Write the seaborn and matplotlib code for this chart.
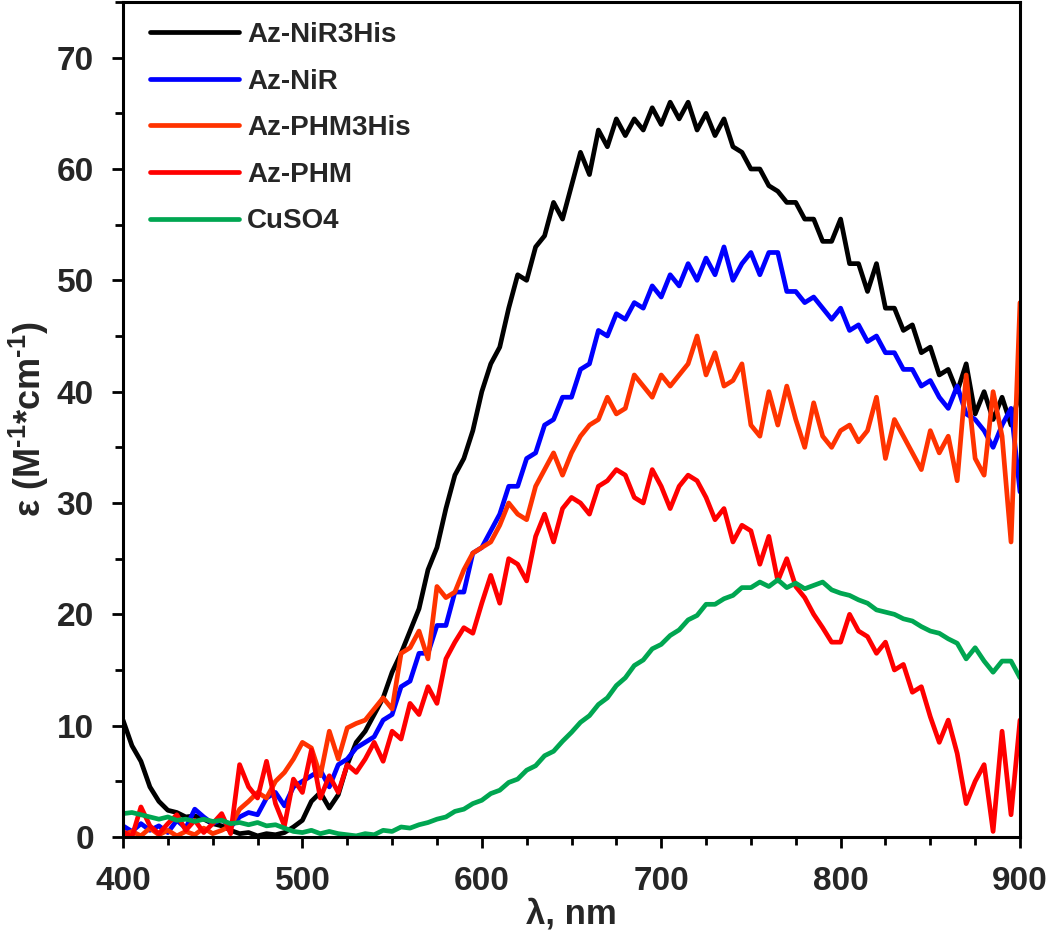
import numpy as np
import pandas as pd
import matplotlib
matplotlib.use("Agg")
import matplotlib.pyplot as plt
import seaborn as sns
from matplotlib.ticker import MultipleLocator

# ---------------- data (5 nm steps) ----------------
wavelength = list(range(400, 901, 5))

az_nir3his = [10.5, 8.2, 6.8, 4.5, 3.2, 2.4, 2.2, 1.8, 1.9, 1.6,
              1.2, 1.0, 0.6, 0.3, 0.4, 0.1, 0.3, 0.2, 0.4, 0.9,
              1.5, 3.2, 4.0, 2.6, 3.8, 6.5, 8.5, 9.5, 11.0, 12.5,
              14.8, 16.5, 18.5, 20.5, 24.0, 26.0, 29.5, 32.5, 34.0, 36.5,
              40.0, 42.5, 44.0, 47.5, 50.5, 50.0, 53.0, 54.0, 57.0, 55.5,
              58.5, 61.5, 59.5, 63.5, 62.0, 64.5, 63.0, 64.5, 63.5, 65.5,
              64.0, 66.0, 64.5, 66.0, 63.5, 65.0, 63.0, 64.5, 62.0, 61.5,
              60.0, 60.0, 58.5, 58.0, 57.0, 57.0, 55.5, 55.5, 53.5, 53.5,
              55.5, 51.5, 51.5, 49.0, 51.5, 47.5, 47.5, 45.5, 46.0, 43.5,
              44.0, 41.5, 42.0, 40.0, 42.5, 38.0, 40.0, 37.5, 39.5, 37.0,
              40.0]

az_nir = [1.0, 0.5, 1.2, 0.6, 1.0, 0.4, 1.5, 0.8, 2.5, 1.8,
          1.2, 1.6, 0.9, 1.8, 2.2, 2.0, 3.5, 4.0, 2.8, 4.5,
          5.0, 5.5, 6.0, 4.5, 6.5, 7.0, 8.0, 8.5, 9.0, 10.5,
          11.0, 13.5, 14.0, 16.5, 16.5, 19.0, 19.0, 22.0, 22.0, 25.5,
          26.0, 27.5, 29.0, 31.5, 31.5, 34.0, 34.5, 37.0, 37.5, 39.5,
          39.5, 42.0, 42.5, 45.5, 45.0, 47.0, 46.5, 48.0, 47.5, 49.5,
          48.5, 50.5, 49.5, 51.5, 50.0, 52.0, 50.5, 53.0, 50.0, 51.5,
          52.5, 50.5, 52.5, 52.5, 49.0, 49.0, 48.0, 48.5, 47.5, 46.5,
          47.5, 45.5, 46.0, 44.5, 45.0, 43.5, 43.5, 42.0, 42.0, 40.5,
          41.0, 39.5, 38.5, 40.5, 38.0, 37.5, 36.5, 35.0, 37.0, 38.5,
          31.0]

az_phm3his = [0.2, 0.5, 0.1, 0.8, 0.2, 0.6, 0.1, 0.5, 0.2, 0.8,
              0.3, 0.6, 1.0, 2.5, 3.2, 4.0, 3.5, 5.0, 5.8, 7.0,
              8.5, 8.0, 5.5, 9.5, 7.0, 9.8, 10.2, 10.5, 11.5, 12.5,
              11.5, 16.5, 17.0, 18.5, 16.0, 22.5, 21.5, 22.0, 24.0, 25.5,
              26.0, 26.5, 28.0, 30.0, 29.0, 28.5, 31.5, 33.0, 34.5, 32.5,
              34.5, 36.0, 37.0, 37.5, 39.5, 38.0, 38.5, 41.5, 40.5, 39.5,
              41.5, 40.5, 41.5, 42.5, 45.0, 41.5, 43.5, 40.5, 41.0, 42.5,
              37.0, 36.0, 40.0, 37.0, 40.5, 37.5, 35.0, 39.0, 36.0, 35.0,
              36.5, 37.0, 35.5, 36.5, 39.5, 34.0, 37.5, 36.0, 34.5, 33.0,
              36.5, 34.5, 36.0, 32.0, 41.5, 34.0, 32.5, 40.0, 36.0, 26.5,
              48.0]

az_phm = [0.5, 0.0, 2.7, 1.0, 0.3, 1.2, 2.0, 0.6, 1.5, 0.4,
          1.2, 2.1, 0.3, 6.5, 4.5, 3.5, 6.8, 3.0, 1.0, 5.2,
          4.0, 7.8, 3.5, 5.5, 4.0, 6.5, 5.8, 7.0, 8.5, 6.8,
          9.5, 8.8, 12.0, 11.0, 13.5, 12.0, 16.0, 17.5, 18.8, 18.3,
          21.0, 23.5, 21.0, 25.0, 24.5, 23.0, 27.0, 29.0, 26.5, 29.5,
          30.5, 30.0, 29.0, 31.5, 32.0, 33.0, 32.5, 30.5, 30.0, 33.0,
          31.5, 29.5, 31.5, 32.5, 32.0, 30.5, 28.5, 29.5, 26.5, 28.0,
          27.5, 24.5, 27.0, 23.0, 25.0, 22.5, 21.5, 20.0, 18.8, 17.5,
          17.5, 20.0, 18.5, 18.0, 16.5, 17.5, 15.0, 15.5, 13.0, 13.5,
          10.8, 8.5, 10.5, 7.5, 3.0, 5.0, 6.5, 0.5, 9.5, 2.0,
          10.5]

cuso4 = [2.1, 2.2, 2.0, 1.8, 1.6, 1.8, 1.5, 1.6, 1.4, 1.6,
         1.4, 1.5, 1.2, 1.3, 1.1, 1.3, 1.0, 1.1, 0.8, 0.5,
         0.4, 0.6, 0.3, 0.5, 0.3, 0.2, 0.1, 0.3, 0.2, 0.6,
         0.5, 0.9, 0.8, 1.1, 1.3, 1.6, 1.8, 2.3, 2.5, 3.0,
         3.3, 3.9, 4.2, 4.9, 5.2, 6.0, 6.4, 7.3, 7.7, 8.6,
         9.4, 10.3, 10.9, 11.9, 12.5, 13.6, 14.3, 15.4, 15.9, 16.9,
         17.3, 18.1, 18.6, 19.5, 19.9, 20.9, 20.9, 21.4, 21.7, 22.4,
         22.4, 22.9, 22.5, 23.1, 22.4, 22.8, 22.3, 22.6, 22.9, 22.2,
         21.9, 21.7, 21.3, 21.0, 20.4, 20.2, 20.0, 19.6, 19.4, 18.9,
         18.5, 18.3, 17.8, 17.4, 16.0, 17.0, 15.8, 14.8, 15.8, 15.8,
         14.3]

series_names = ["Az-NiR3His", "Az-NiR", "Az-PHM3His", "Az-PHM", "CuSO4"]
series_values = [az_nir3his, az_nir, az_phm3his, az_phm, cuso4]
series_colors = ["#000000", "#0000FF", "#FF3300", "#FF0000", "#00A651"]

x_ticks = [400, 500, 600, 700, 800, 900]
y_ticks = [0, 10, 20, 30, 40, 50, 60, 70]

# ---------------- long-form table ----------------
frames = []
for name, vals in zip(series_names, series_values):
    frames.append(pd.DataFrame({"wl": wavelength, "eps": vals, "sample": name}))
df = pd.concat(frames, ignore_index=True)

# ---------------- style ----------------
sns.set_theme(style="white")
plt.rcParams["font.family"] = ["Liberation Sans", "DejaVu Sans"]
plt.rcParams["font.weight"] = "bold"
plt.rcParams["mathtext.fontset"] = "custom"
plt.rcParams["mathtext.rm"] = "Liberation Sans:bold"
plt.rcParams["mathtext.bf"] = "Liberation Sans:bold"
plt.rcParams["mathtext.it"] = "Liberation Sans:bold"
plt.rcParams["mathtext.default"] = "rm"

fig = plt.figure(figsize=(10.5, 9.41), dpi=100)
ax = fig.add_axes([123 / 1050, (941 - 837) / 941, (1020 - 123) / 1050, (837 - 2) / 941])

sns.lineplot(data=df, x="wl", y="eps", hue="sample", hue_order=series_names,
             palette=series_colors, estimator=None, sort=False, lw=3.4, ax=ax)

ax.set_xlim(400, 900)
ax.set_ylim(0, 75)
ax.set_xticks(x_ticks)
ax.set_yticks(y_ticks)
ax.xaxis.set_minor_locator(MultipleLocator(25))
ax.yaxis.set_minor_locator(MultipleLocator(5))
ax.tick_params(axis="both", which="major", direction="out", length=8, width=2,
               labelsize=24, pad=13, color="black", bottom=True, left=True)
ax.tick_params(axis="both", which="minor", direction="out", length=6, width=2,
               color="black", bottom=True, left=True)
for lab in ax.get_xticklabels() + ax.get_yticklabels():
    lab.set_fontweight("bold")

for sp in ax.spines.values():
    sp.set_linewidth(2.2)
    sp.set_color("black")

ax.set_xlabel("λ, nm", fontsize=25, fontweight="bold", labelpad=0)
ax.set_ylabel(r"ε (M$^{\text{-1}}$*cm$^{\text{-1}}$)", fontsize=26, fontweight="bold", labelpad=4)

leg = ax.legend(loc="upper left", bbox_to_anchor=(0.030, 0.976), frameon=False,
                borderaxespad=0, borderpad=0, handlelength=3.2, handletextpad=0.3,
                labelspacing=0.74, prop={"weight": "bold", "size": 20})
for line in leg.get_lines():
    line.set_linewidth(3.4)

fig.savefig("out.png", dpi=100)
